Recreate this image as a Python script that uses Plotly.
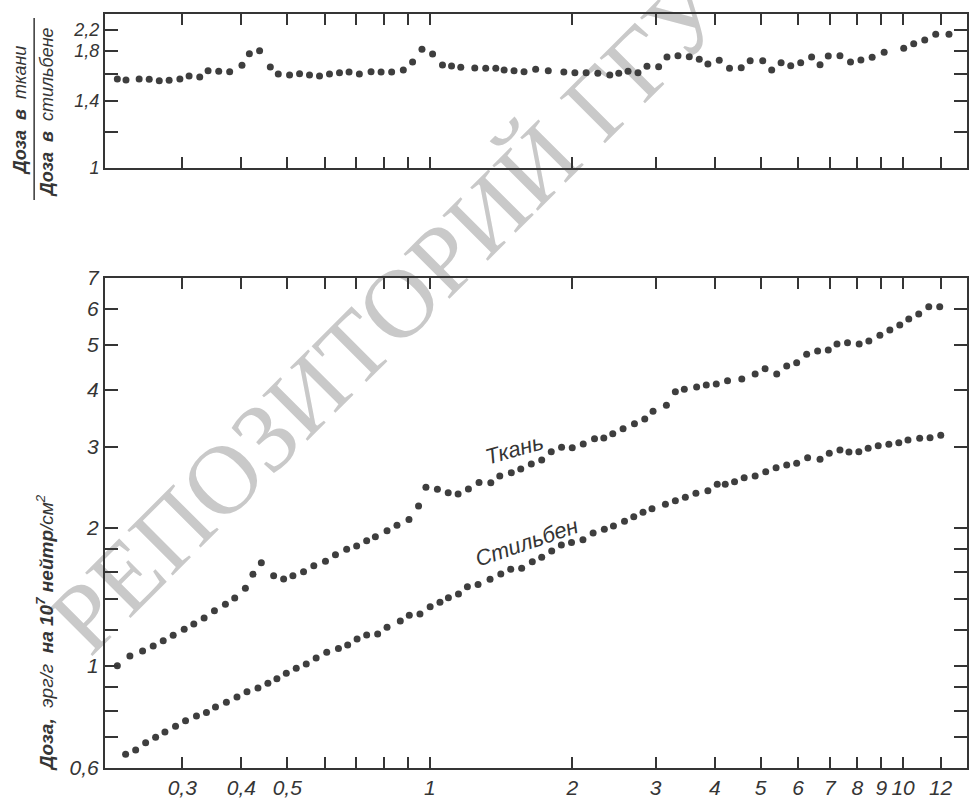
import math
import plotly.graph_objects as go

# ---------------- data ----------------
# Energy, MeV (log axis)
energy_tissue = [0.2188, 0.2326, 0.2474, 0.2605, 0.2735, 0.2871, 0.3029, 0.3174, 0.3337, 0.3509,
                 0.3701, 0.3873, 0.4079, 0.4232, 0.4408, 0.4680, 0.4913, 0.5140, 0.5413, 0.5690,
                 0.6022, 0.6322, 0.6676, 0.7008, 0.7358, 0.7676, 0.8125, 0.8528, 0.9040, 0.9471,
                 0.9817, 1.038, 1.094, 1.148, 1.207, 1.271, 1.346, 1.406, 1.487, 1.557,
                 1.639, 1.724, 1.806, 1.899, 2.000, 2.110, 2.229, 2.332, 2.436, 2.561,
                 2.707, 2.846, 2.963, 3.162, 3.303, 3.450, 3.663, 3.839, 4.030, 4.257,
                 4.563, 4.869, 5.110, 5.408, 5.677, 5.959, 6.255, 6.598, 6.949, 7.250,
                 7.631, 8.076, 8.466, 8.932, 9.376, 9.840, 10.28, 10.79, 11.33, 11.95]
dose_tissue = [1.002, 1.052, 1.079, 1.106, 1.136, 1.167, 1.203, 1.235, 1.273, 1.320,
               1.363, 1.407, 1.477, 1.585, 1.679, 1.573, 1.548, 1.573, 1.605, 1.654,
               1.691, 1.748, 1.796, 1.826, 1.875, 1.913, 1.971, 2.026, 2.085, 2.231,
               2.451, 2.427, 2.385, 2.370, 2.430, 2.510, 2.508, 2.594, 2.637, 2.686,
               2.754, 2.810, 2.930, 2.995, 2.989, 3.045, 3.127, 3.138, 3.206, 3.287,
               3.371, 3.451, 3.587, 3.697, 3.957, 4.006, 4.052, 4.093, 4.113, 4.182,
               4.218, 4.325, 4.441, 4.325, 4.502, 4.577, 4.774, 4.854, 4.878, 5.027,
               5.060, 5.027, 5.104, 5.252, 5.393, 5.530, 5.699, 5.843, 6.061, 6.061]

energy_stilbene = [0.2278, 0.2392, 0.2511, 0.2636, 0.2758, 0.2904, 0.3049, 0.3215, 0.3375, 0.3527,
                   0.3719, 0.3916, 0.4111, 0.4336, 0.4551, 0.4755, 0.4977, 0.5224, 0.5484, 0.5755,
                   0.6059, 0.6414, 0.6709, 0.7023, 0.7358, 0.7762, 0.8125, 0.8666, 0.9053, 0.9535,
                   1.002, 1.051, 1.095, 1.150, 1.201, 1.265, 1.341, 1.413, 1.483, 1.564,
                   1.647, 1.724, 1.810, 1.897, 1.993, 2.107, 2.214, 2.338, 2.444, 2.579,
                   2.698, 2.822, 2.948, 3.147, 3.303, 3.467, 3.650, 3.869, 4.049, 4.210,
                   4.405, 4.616, 4.869, 5.126, 5.391, 5.677, 5.959, 6.285, 6.676, 6.983,
                   7.355, 7.684, 8.063, 8.437, 8.860, 9.330, 9.793, 10.24, 10.84, 11.40,
                   12.01]
dose_stilbene = [0.6427, 0.6567, 0.6812, 0.6998, 0.7186, 0.7394, 0.7605, 0.7787, 0.7930, 0.8146,
                 0.8341, 0.8565, 0.8797, 0.8960, 0.9175, 0.9388, 0.9645, 0.9890, 1.011, 1.041,
                 1.072, 1.093, 1.112, 1.146, 1.169, 1.175, 1.215, 1.254, 1.290, 1.298,
                 1.347, 1.377, 1.409, 1.436, 1.489, 1.506, 1.545, 1.587, 1.625, 1.633,
                 1.688, 1.725, 1.781, 1.835, 1.858, 1.884, 1.949, 1.985, 2.018, 2.068,
                 2.115, 2.162, 2.201, 2.250, 2.291, 2.331, 2.378, 2.409, 2.488, 2.488,
                 2.521, 2.572, 2.594, 2.650, 2.704, 2.741, 2.764, 2.843, 2.820, 2.906,
                 2.954, 2.925, 2.930, 2.980, 3.019, 3.040, 3.064, 3.107, 3.133, 3.143,
                 3.181]

energy_ratio = [0.2188, 0.2282, 0.2433, 0.2555, 0.2683, 0.2815, 0.2966, 0.3102, 0.3267, 0.3402,
                0.3583, 0.3779, 0.4012, 0.4159, 0.4371, 0.4605, 0.4787, 0.5057, 0.5309, 0.5572,
                0.5850, 0.6141, 0.6447, 0.6754, 0.7101, 0.7517, 0.7893, 0.8309, 0.8794, 0.9200,
                0.9629, 1.014, 1.064, 1.112, 1.163, 1.245, 1.313, 1.379, 1.436, 1.507,
                1.582, 1.674, 1.780, 1.920, 2.026, 2.140, 2.265, 2.401, 2.508, 2.624,
                2.754, 2.877, 3.045, 3.171, 3.345, 3.534, 3.710, 3.869, 4.089, 4.298,
                4.550, 4.753, 5.052, 5.277, 5.524, 5.789, 6.077, 6.408, 6.676, 6.949,
                7.355, 7.743, 8.144, 8.602, 9.120, 10.03, 10.53, 11.11, 11.72, 12.50]
ratio = [1.563, 1.555, 1.563, 1.560, 1.549, 1.552, 1.563, 1.586, 1.578, 1.629,
         1.624, 1.621, 1.673, 1.774, 1.800, 1.659, 1.602, 1.594, 1.604, 1.594,
         1.586, 1.602, 1.612, 1.618, 1.602, 1.621, 1.618, 1.618, 1.634, 1.701,
         1.813, 1.771, 1.676, 1.668, 1.657, 1.651, 1.649, 1.649, 1.634, 1.629,
         1.621, 1.640, 1.629, 1.618, 1.612, 1.612, 1.607, 1.594, 1.607, 1.624,
         1.612, 1.665, 1.662, 1.745, 1.756, 1.747, 1.724, 1.684, 1.716, 1.649,
         1.653, 1.712, 1.712, 1.634, 1.695, 1.670, 1.695, 1.745, 1.679, 1.753,
         1.756, 1.701, 1.718, 1.742, 1.786, 1.822, 1.865, 1.899, 1.955, 1.955]

x_tickvals = [0.3, 0.4, 0.5, 0.6, 0.7, 0.8, 0.9, 1, 2, 3, 4, 5, 6, 7, 8, 9, 10, 12]
x_ticktext = ["0,3", "0,4", "0,5", "", "", "", "", "1", "2", "3", "4", "5", "6", "7", "8", "9", "10", "12"]
ratio_tickvals = [1, 1.2, 1.4, 1.6, 1.8, 2.0]
ratio_ticktext = ["1", "", "1,4", "", "1,8", "2,2"]
dose_tickvals = [0.6, 0.7, 0.8, 0.9, 1, 1.2, 1.4, 1.6, 1.8, 2, 3, 4, 5, 6, 7]
dose_ticktext = ["0,6", "", "", "", "1", "", "", "", "", "2", "3", "4", "5", "6", "7"]

label_tissue = "Ткань"
label_stilbene = "Стильбен"
title_ratio_top = "<b>Доза  в</b>  ткани"
title_ratio_bottom = "<b>Доза  в</b>  стильбене"
title_dose = "<b>Доза,</b>  эрг/г  <b>на 10<sup>7</sup> нейтр</b>/см<sup>2</sup>"
watermark = "РЕПОЗИТОРИЙ ГГУ"

# ---------------- styling ----------------
INK = "#353535"
DOT = "#3e3e3e"
SANS = "Liberation Sans, DejaVu Sans, sans-serif"

fig = go.Figure()
marker = dict(size=7, color=DOT, line=dict(width=0))
fig.add_trace(go.Scatter(x=energy_ratio, y=ratio, mode="markers", marker=marker,
                         xaxis="x", yaxis="y", showlegend=False, hoverinfo="skip"))
fig.add_trace(go.Scatter(x=energy_tissue, y=dose_tissue, mode="markers", marker=marker,
                         xaxis="x2", yaxis="y2", showlegend=False, hoverinfo="skip"))
fig.add_trace(go.Scatter(x=energy_stilbene, y=dose_stilbene, mode="markers", marker=marker,
                         xaxis="x2", yaxis="y2", showlegend=False, hoverinfo="skip"))

common = dict(showline=True, linecolor=INK, linewidth=2, mirror="ticks", ticks="inside",
              tickcolor=INK, tickwidth=1.5, showgrid=False, zeroline=False, type="log")
x_range = [-0.686, 1.135]

fig.update_layout(
    width=969, height=799,
    margin=dict(l=105, r=0, t=14, b=31),
    paper_bgcolor="white", plot_bgcolor="rgba(0,0,0,0)",
    xaxis=dict(common, domain=[0, 1], anchor="y", range=x_range, ticklen=11,
               tickvals=x_tickvals, showticklabels=False),
    yaxis=dict(common, domain=[0.7958, 1.0], anchor="x", range=[0, 0.3353], ticklen=13,
               tickvals=ratio_tickvals, ticktext=ratio_ticktext,
               tickfont=dict(family=SANS, size=18, color=INK, style="italic")),
    xaxis2=dict(common, domain=[0, 1], anchor="y2", range=x_range, ticklen=11,
                tickvals=x_tickvals, ticktext=x_ticktext, tickangle=0,
                tickfont=dict(family=SANS, size=21, color=INK, style="italic")),
    yaxis2=dict(common, domain=[0, 0.6499], anchor="x2",
                range=[math.log10(0.6), math.log10(7)], ticklen=13,
                tickvals=dose_tickvals, ticktext=dose_ticktext,
                tickfont=dict(family=SANS, size=21, color=INK, style="italic")),
)

ann_font = dict(family=SANS, size=18, color=INK, style="italic")
fig.add_annotation(text=title_ratio_top, x=-0.0984, y=0.8727, xref="paper", yref="paper",
                   xanchor="center", yanchor="middle",
                   textangle=-90, showarrow=False, font=ann_font)
fig.add_annotation(text=title_ratio_bottom, x=-0.0671, y=0.870, xref="paper", yref="paper",
                   xanchor="center", yanchor="middle",
                   textangle=-90, showarrow=False, font=ann_font)
fig.add_shape(type="line", xref="paper", yref="paper", x0=-0.0822, x1=-0.0822,
              y0=0.7533, y1=0.9947, line=dict(color=INK, width=1.5))
fig.add_annotation(text=title_dose, x=-0.0694, y=0.179, xref="paper", yref="paper",
                   xanchor="center", yanchor="middle",
                   textangle=-90, showarrow=False,
                   font=dict(family=SANS, size=19, color=INK, style="italic"))

fig.add_annotation(text=label_tissue, x=0.4745, y=0.4218, xref="paper", yref="paper",
                   xanchor="center", yanchor="middle",
                   textangle=-16, showarrow=False,
                   font=dict(family=SANS, size=22, color=INK, style="italic"))
fig.add_annotation(text=label_stilbene, x=0.4884, y=0.2997, xref="paper", yref="paper",
                   xanchor="center", yanchor="middle",
                   textangle=-19, showarrow=False,
                   font=dict(family=SANS, size=22, color=INK, style="italic"))

# scanned watermark, drawn beneath the data
fig.add_shape(type="rect", xref="paper", yref="paper", x0=0.309, x1=0.329, y0=0.601, y1=0.624,
              line=dict(width=0), fillcolor="rgba(0,0,0,0)", layer="below",
              label=dict(text=watermark, textangle=-45, textposition="middle center",
                         font=dict(family="Liberation Serif, serif", size=98, color="#c9c9c9")))

fig.write_html("out.html", config={"displayModeBar": False},
               post_script="document.body.style.margin='0';document.body.style.overflow='hidden';")
